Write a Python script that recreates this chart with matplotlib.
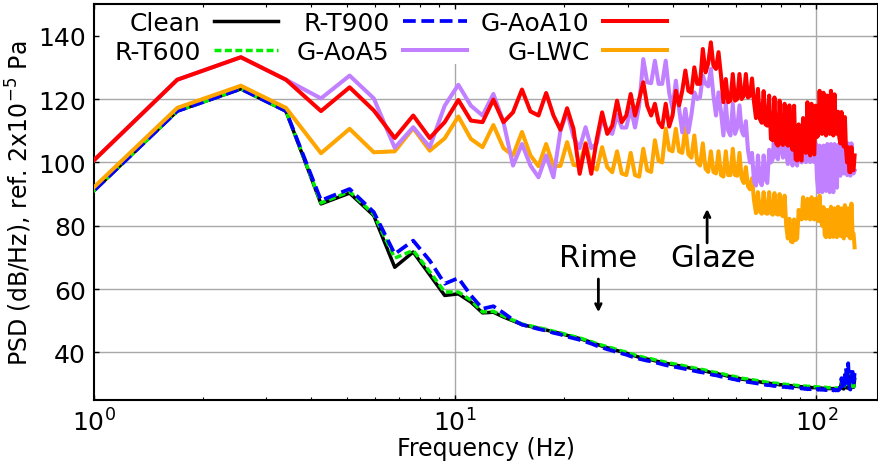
import numpy as np
import matplotlib
matplotlib.use("Agg")
import matplotlib.pyplot as plt
from matplotlib.patches import Rectangle

# frequency bins (0.85 Hz resolution)
bin_index = np.arange(1, 151)
freq = bin_index * 0.85

clean = [
    83.4, 116.2, 123.2, 116.2, 86.9, 90.3, 83.2, 66.9, 71.7, 64.5,
    58.0, 58.5, 55.9, 52.5, 52.7, 51.2, 50.0, 48.8, 48.2, 47.6,
    47.1, 46.5, 46.0, 45.4, 44.9, 44.4, 43.8, 43.2, 42.6, 42.0,
    41.5, 41.1, 40.6, 40.2, 39.8, 39.3, 38.9, 38.5, 38.2, 37.9,
    37.7, 37.4, 37.1, 36.9, 36.6, 36.4, 36.2, 36.0, 35.8, 35.6,
    35.4, 35.2, 35.0, 34.8, 34.6, 34.4, 34.3, 34.1, 33.9, 33.7,
    33.5, 33.4, 33.2, 33.0, 32.9, 32.7, 32.5, 32.4, 32.2, 32.1,
    31.9, 31.8, 31.6, 31.5, 31.4, 31.3, 31.2, 31.1, 31.0, 30.9,
    30.8, 30.7, 30.6, 30.5, 30.4, 30.3, 30.3, 30.2, 30.1, 30.0,
    30.0, 29.9, 29.8, 29.8, 29.7, 29.7, 29.6, 29.6, 29.5, 29.5,
    29.4, 29.4, 29.3, 29.3, 29.2, 29.2, 29.2, 29.1, 29.1, 29.1,
    29.0, 29.0, 29.0, 28.9, 28.9, 28.9, 28.9, 28.8, 28.8, 28.8,
    28.8, 28.7, 28.7, 28.7, 28.7, 28.6, 28.6, 28.6, 28.6, 28.6,
    28.6, 28.5, 28.5, 28.5, 28.5, 28.5, 29.0, 30.5, 28.6, 28.5,
    30.5, 32.5, 28.8, 33.0, 28.6, 28.5, 30.0, 32.0, 29.0, 31.5,
]

r_t600 = [
    83.4, 116.2, 123.2, 116.2, 87.2, 90.8, 83.6, 69.8, 72.2, 65.5,
    59.1, 59.1, 56.5, 52.8, 53.0, 51.5, 50.2, 49.0, 48.4, 47.8,
    47.3, 46.7, 46.2, 45.6, 45.1, 44.6, 44.0, 43.4, 42.8, 42.3,
    41.8, 41.4, 40.9, 40.5, 40.1, 39.6, 39.2, 38.8, 38.5, 38.2,
    38.0, 37.7, 37.4, 37.2, 36.9, 36.7, 36.5, 36.3, 36.1, 35.9,
    35.7, 35.5, 35.3, 35.1, 34.9, 34.7, 34.6, 34.4, 34.2, 34.0,
    33.8, 33.7, 33.5, 33.3, 33.2, 33.0, 32.8, 32.7, 32.5, 32.4,
    32.2, 32.1, 31.9, 31.8, 31.7, 31.6, 31.5, 31.4, 31.3, 31.2,
    31.1, 31.0, 30.9, 30.8, 30.7, 30.6, 30.6, 30.5, 30.4, 30.3,
    30.3, 30.2, 30.1, 30.1, 30.0, 30.0, 29.9, 29.9, 29.8, 29.8,
    29.7, 29.7, 29.6, 29.6, 29.5, 29.5, 29.5, 29.4, 29.4, 29.4,
    29.3, 29.3, 29.3, 29.2, 29.2, 29.2, 29.2, 29.1, 29.1, 29.1,
    29.1, 29.0, 29.0, 29.0, 29.0, 28.9, 28.9, 28.9, 28.9, 28.9,
    28.9, 28.8, 28.8, 28.8, 28.8, 28.8, 29.2, 31.0, 28.9, 28.8,
    31.0, 33.5, 29.0, 34.0, 28.9, 28.8, 30.5, 33.0, 29.2, 32.0,
]

r_t900 = [
    83.4, 116.2, 123.2, 116.2, 88.0, 91.6, 84.3, 71.1, 75.3, 69.0,
    61.7, 63.5, 58.0, 53.8, 54.6, 52.5, 50.3, 48.8, 48.1, 47.4,
    46.9, 46.2, 45.7, 45.0, 44.5, 44.0, 43.4, 42.8, 42.1, 41.6,
    41.0, 40.6, 40.1, 39.7, 39.3, 38.8, 38.4, 38.0, 37.7, 37.4,
    37.2, 36.9, 36.6, 36.3, 36.0, 35.8, 35.6, 35.4, 35.2, 35.0,
    34.8, 34.6, 34.4, 34.2, 34.0, 33.8, 33.7, 33.5, 33.3, 33.1,
    32.9, 32.8, 32.6, 32.4, 32.3, 32.1, 31.9, 31.8, 31.6, 31.5,
    31.3, 31.2, 31.0, 30.9, 30.8, 30.7, 30.6, 30.5, 30.4, 30.3,
    30.2, 30.1, 30.0, 29.9, 29.8, 29.7, 29.7, 29.6, 29.5, 29.4,
    29.5, 29.3, 29.2, 29.3, 29.1, 29.2, 29.0, 29.1, 28.9, 29.0,
    28.8, 28.9, 28.7, 28.9, 28.6, 28.8, 28.6, 28.7, 28.5, 28.7,
    28.4, 28.6, 28.4, 28.6, 28.3, 28.5, 28.3, 28.5, 28.2, 28.5,
    28.2, 28.4, 28.2, 28.4, 28.1, 28.4, 28.1, 28.3, 28.1, 28.3,
    28.0, 28.3, 28.0, 28.2, 28.0, 28.3, 29.5, 31.9, 28.5, 28.2,
    33.0, 35.0, 29.5, 36.6, 28.6, 28.3, 31.0, 35.1, 29.5, 33.5,
]

g_aoa5 = [
    92.9, 126.1, 133.2, 126.1, 120.2, 127.4, 120.2, 104.6, 111.1, 104.8,
    117.9, 124.5, 117.9, 114.8, 121.6, 112.7, 99.0, 105.8, 99.0, 95.3,
    102.2, 95.3, 110.0, 116.0, 108.0, 104.5, 111.1, 104.5, 106.0, 114.0,
    110.0, 109.0, 115.0, 111.0, 111.0, 117.0, 111.0, 118.0, 132.6, 125.3,
    125.0, 132.1, 124.8, 124.8, 132.1, 122.0, 116.9, 125.8, 117.0, 109.5,
    116.9, 109.5, 115.0, 122.1, 120.0, 120.5, 127.4, 124.8, 124.0, 129.5,
    121.1, 114.8, 122.1, 116.0, 108.5, 118.5, 110.0, 108.5, 118.5, 109.0,
    111.0, 118.0, 110.0, 108.5, 113.0, 104.0, 100.0, 103.0, 94.0, 92.7,
    102.2, 94.0, 92.8, 102.2, 94.5, 93.5, 104.0, 100.0, 101.0, 111.0,
    102.0, 101.0, 113.0, 104.0, 101.5, 111.0, 103.0, 99.5, 110.5, 102.0,
    99.0, 108.0, 100.5, 99.0, 108.5, 100.5, 100.0, 107.5, 100.5, 100.1,
    107.5, 101.0, 100.1, 107.0, 100.5, 100.1, 106.0, 95.0, 90.6, 105.3,
    93.0, 90.6, 105.3, 96.0, 91.0, 105.8, 92.0, 90.6, 105.8, 94.0,
    90.6, 105.8, 95.0, 92.0, 105.5, 97.0, 95.8, 106.0, 98.0, 96.5,
    106.0, 98.0, 96.0, 106.0, 97.0, 95.8, 106.0, 98.0, 96.5, 97.4,
]

g_aoa10 = [
    92.9, 126.1, 133.2, 126.1, 116.2, 123.7, 116.4, 107.7, 114.8, 107.7,
    112.7, 119.7, 113.2, 112.7, 119.8, 112.7, 115.8, 123.0, 116.1, 114.8,
    121.9, 114.8, 110.3, 117.1, 110.6, 96.4, 105.8, 96.4, 107.4, 115.8,
    109.0, 111.6, 119.5, 112.7, 114.8, 121.6, 114.8, 120.0, 125.3, 117.9,
    114.8, 118.5, 112.7, 111.1, 118.5, 111.3, 114.8, 122.6, 118.0, 122.6,
    129.0, 122.6, 122.0, 130.0, 124.8, 124.8, 135.8, 128.4, 131.3, 137.9,
    130.5, 129.5, 134.8, 127.5, 119.0, 126.3, 119.0, 119.5, 127.9, 119.5,
    120.0, 127.9, 120.0, 121.0, 127.9, 120.5, 121.0, 126.5, 119.0, 114.0,
    123.2, 113.7, 112.5, 122.5, 112.0, 111.6, 121.1, 107.4, 107.0, 120.5,
    106.0, 105.3, 119.5, 106.0, 105.5, 118.5, 106.0, 105.3, 118.0, 105.5,
    104.0, 117.9, 101.0, 100.6, 112.0, 101.0, 100.6, 114.0, 104.3, 103.0,
    119.0, 104.3, 102.2, 118.5, 104.0, 102.5, 117.9, 108.0, 108.5, 122.6,
    110.0, 109.0, 122.0, 111.6, 108.5, 121.1, 110.0, 109.0, 122.6, 111.0,
    108.5, 121.5, 110.0, 109.0, 116.0, 108.0, 106.0, 115.9, 107.0, 105.0,
    114.3, 104.0, 100.0, 104.8, 97.0, 96.9, 104.8, 98.0, 97.5, 102.2,
]

g_lwc = [
    84.5, 117.2, 124.2, 117.2, 102.9, 110.6, 103.2, 103.5, 110.8, 103.7,
    107.6, 114.5, 107.4, 104.8, 111.8, 104.5, 102.2, 109.6, 102.2, 98.8,
    105.8, 98.8, 98.9, 106.4, 99.2, 98.9, 106.2, 98.9, 97.7, 104.8,
    98.5, 96.9, 103.5, 96.5, 96.0, 103.0, 96.0, 95.5, 104.3, 97.5,
    97.0, 107.0, 100.5, 100.0, 110.6, 104.0, 103.5, 110.6, 103.5, 103.0,
    111.0, 102.5, 101.5, 108.5, 100.0, 99.0, 106.0, 98.0, 97.0, 103.5,
    97.0, 96.5, 103.5, 96.0, 95.5, 103.5, 96.0, 96.0, 104.3, 96.0,
    95.8, 103.0, 95.0, 93.5, 98.5, 92.5, 91.5, 95.0, 88.0, 84.0,
    90.6, 84.5, 83.8, 90.6, 84.0, 83.8, 90.6, 84.0, 83.5, 90.3,
    83.8, 83.5, 90.0, 83.5, 83.0, 89.5, 80.0, 76.0, 82.2, 75.0,
    74.8, 82.0, 75.5, 76.0, 85.0, 82.5, 82.0, 89.0, 82.5, 82.2,
    88.5, 82.4, 82.0, 89.0, 82.5, 82.0, 88.5, 82.0, 81.5, 89.5,
    82.0, 80.0, 85.9, 77.0, 76.4, 85.0, 77.5, 76.4, 86.0, 78.0,
    76.5, 85.5, 77.0, 76.4, 86.0, 77.5, 76.8, 85.5, 77.0, 76.0,
    86.5, 78.0, 77.0, 85.5, 76.5, 76.0, 87.0, 78.0, 77.5, 73.2,
]

y_ticks = [40, 60, 80, 100, 120, 140]
x_grid = [10, 100]

W, H = 879, 464
fig = plt.figure(figsize=(W / 100, H / 100), dpi=100)
ax = fig.add_axes([94 / W, 63 / H, 784 / W, 396 / H])

l_clean, = ax.plot(freq, clean, color="black", lw=2.5, label="Clean", zorder=3)
l_t600, = ax.plot(freq, r_t600, color="#00ee00", lw=2.5, dashes=(2.0, 1.0),
                  label="R-T600", zorder=3.1)
l_t900, = ax.plot(freq, r_t900, color="#0000ff", lw=2.7, dashes=(3.4, 1.5),
                  label="R-T900", zorder=3.2)
l_lwc, = ax.plot(freq, g_lwc, color="orange", lw=2.9, label="G-LWC", zorder=3.3)
l_a5, = ax.plot(freq, g_aoa5, color="#c080ff", lw=2.9, label="G-AoA5", zorder=3.4)
l_a10, = ax.plot(freq, g_aoa10, color="#ff0000", lw=2.9, label="G-AoA10", zorder=3.5)

ax.set_xscale("log")
ax.set_xlim(1, 148)
ax.set_ylim(25, 150)
ax.set_yticks(y_ticks)

# grid drawn below a white legend background patch
for yv in y_ticks:
    ax.axhline(yv, color="#a8a8a8", lw=1.0, zorder=1)
for xv in x_grid:
    ax.axvline(xv, color="#a8a8a8", lw=1.0, zorder=1)
ax.add_patch(Rectangle((0, (401 - 65) / 396), (680 - 94) / 784, 1.0,
                       transform=ax.transAxes, facecolor="white",
                       edgecolor="none", zorder=1.2, clip_on=True))

ax.tick_params(which="both", direction="in", top=True, right=True, labelsize=18)
ax.tick_params(which="major", length=3.5, width=1)
ax.tick_params(which="minor", length=2, width=0.8)
ax.tick_params(axis="x", which="major", pad=6)
ax.tick_params(axis="y", which="major", pad=6)
for s in ax.spines.values():
    s.set_linewidth(1.5)

ax.set_xlabel("Frequency (Hz)", fontsize=17, labelpad=0)
ax.set_ylabel("PSD (dB/Hz), ref. 2x10$^{-5}$ Pa", fontsize=17, labelpad=3)

# legend: three columns, label left of handle, right-aligned
columns = [(l_clean, l_t600), (l_t900, l_a5), (l_a10, l_lwc)]
col_right_px = [278, 467, 667]
legends = []
for hs, xr in zip(columns, col_right_px):
    lg = ax.legend(handles=list(hs), labels=[h.get_label() for h in hs],
                   loc="upper right",
                   bbox_to_anchor=((xr - 94) / 784, (401 - 12) / 396),
                   markerfirst=False, fontsize=18, frameon=False,
                   handlelength=2.55, handletextpad=0.55,
                   labelspacing=0.2, borderpad=0.0, borderaxespad=0.0)
    lg.set_zorder(5)
    legends.append(lg)
for lg in legends[:-1]:
    ax.add_artist(lg)

ax.annotate("", xy=(24.9, 52.7), xytext=(24.9, 63.2),
            arrowprops=dict(arrowstyle="->", color="black", lw=2,
                            shrinkA=0, shrinkB=0))
ax.text(24.9, 70.1, "Rime", fontsize=22, ha="center", va="center")
ax.annotate("", xy=(49.8, 85.3), xytext=(49.8, 74.6),
            arrowprops=dict(arrowstyle="->", color="black", lw=2,
                            shrinkA=0, shrinkB=0))
ax.text(51.7, 70.1, "Glaze", fontsize=22, ha="center", va="center")

fig.savefig("out.png", dpi=100)
